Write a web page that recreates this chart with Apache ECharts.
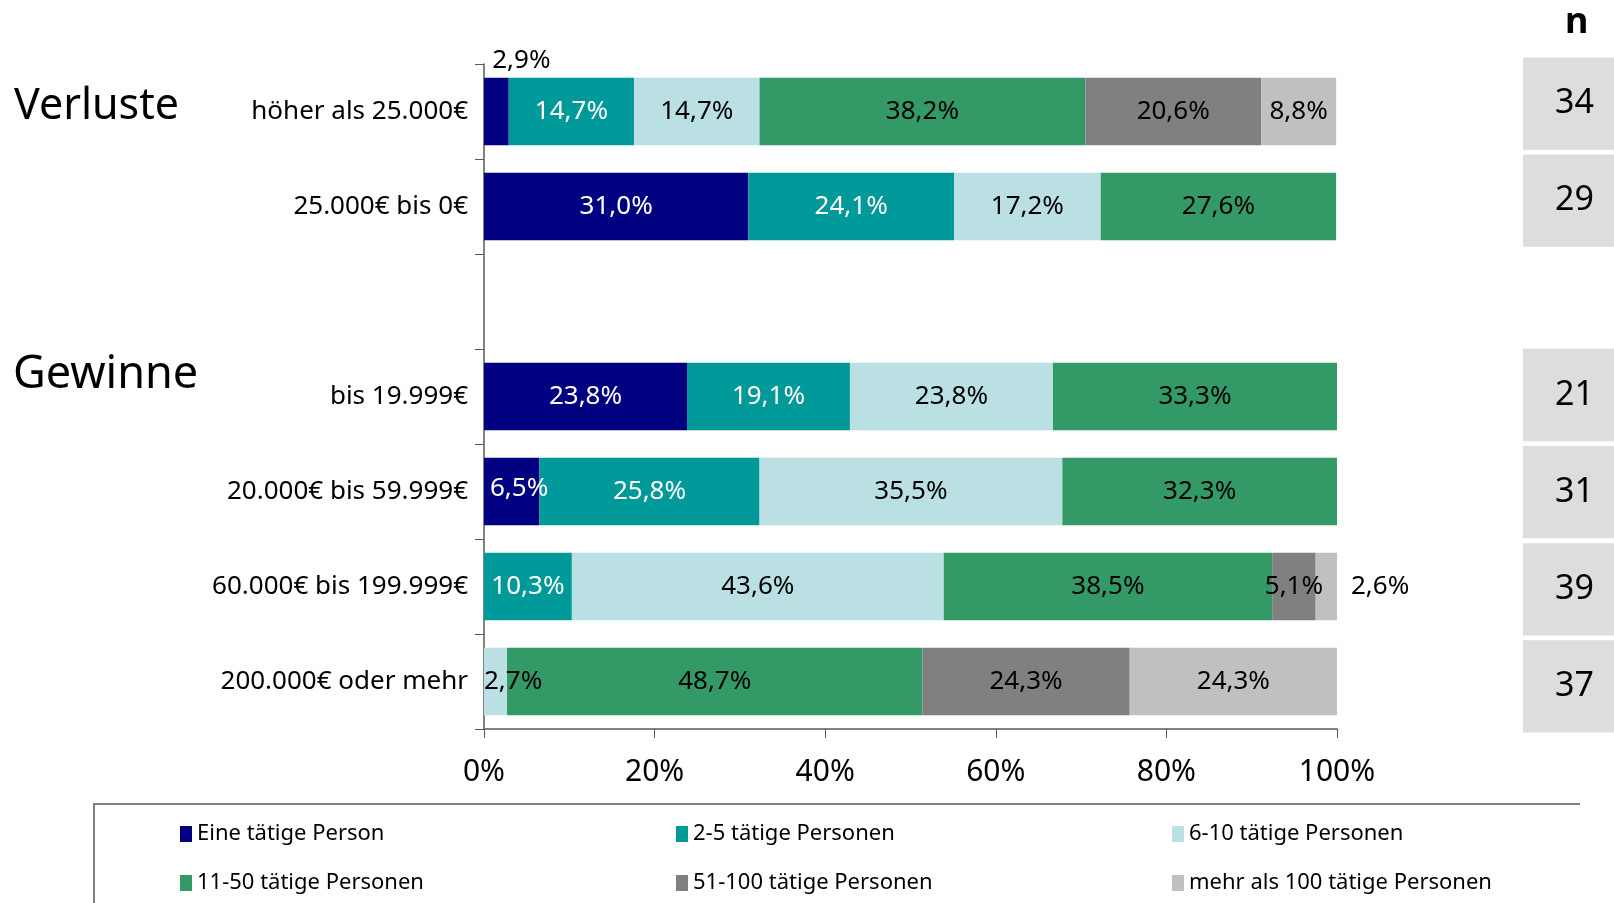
<!DOCTYPE html>
<html>
<head>
<meta charset="utf-8">
<script src="https://cdn.jsdelivr.net/npm/echarts@6/dist/echarts.min.js"></script>
<style>
html,body{margin:0;padding:0;background:#fff;}
#main{width:1614px;height:903px;}
</style>
</head>
<body>
<div id="main"></div>
<script>
// ---- data ----
var categories = ['höher als 25.000€', '25.000€ bis 0€', '', 'bis 19.999€', '20.000€ bis 59.999€', '60.000€ bis 199.999€', '200.000€ oder mehr'];
var seriesNames = ['Eine tätige Person', '2-5 tätige Personen', '6-10 tätige Personen', '11-50 tätige Personen', '51-100 tätige Personen', 'mehr als 100 tätige Personen'];
var einePerson   = [2.9, 31.0, null, 23.8, 6.5, null, null];
var p2bis5       = [14.7, 24.1, null, 19.1, 25.8, 10.3, null];
var p6bis10      = [14.7, 17.2, null, 23.8, 35.5, 43.6, 2.7];
var p11bis50     = [38.2, 27.6, null, 33.3, 32.3, 38.5, 48.7];
var p51bis100    = [20.6, null, null, null, null, 5.1, 24.3];
var mehrAls100   = [8.8, null, null, null, null, 2.6, 24.3];
var nValues      = [34, 29, null, 21, 31, 39, 37];
var xTicks       = [0, 20, 40, 60, 80, 100];
var groupTitles  = ['Verluste', 'Gewinne'];

var colors = ['#000080', '#009999', '#BBE0E3', '#339966', '#808080', '#C0C0C0'];
var labelColors = ['#ffffff', '#ffffff', '#000000', '#000000', '#000000', '#000000'];
var allValues = [einePerson, p2bis5, p6bis10, p11bis50, p51bis100, mehrAls100];

var FONT = 'Noto Sans';
function fmt(v) { return v.toFixed(1).replace('.', ',') + '%'; }

// special label placements (series index, category index)
var specialLabels = {
  '0-0': { position: 'top', distance: 4, offset: [25, 0] },
  '0-4': { position: 'insideLeft', distance: 6, offset: [0, -3] },
  '2-6': { position: 'insideLeft', distance: 0 },
  '5-5': { position: 'right', distance: 14 }
};

var series = allValues.map(function (vals, si) {
  return {
    name: seriesNames[si],
    type: 'bar',
    stack: 'total',
    barCategoryGap: '29%',
    xAxisIndex: 0,
    yAxisIndex: 0,
    itemStyle: { color: colors[si] },
    label: {
      show: true,
      position: 'inside',
      color: labelColors[si],
      fontFamily: FONT,
      fontSize: 26,
      formatter: function (p) { return fmt(p.value); }
    },
    data: vals.map(function (v, ci) {
      if (v == null) return null;
      var sp = specialLabels[si + '-' + ci];
      if (sp) {
        var lab = Object.assign({}, sp);
        if (sp.position === 'top' || sp.position === 'right') lab.color = '#000000';
        return { value: v, label: lab };
      }
      return v;
    })
  };
});

// n column as table cells
series.push({
  name: 'n',
  type: 'bar',
  xAxisIndex: 1,
  yAxisIndex: 1,
  barCategoryGap: '5%',
  silent: true,
  itemStyle: { color: '#DDDDDD' },
  label: {
    show: true,
    position: 'inside',
    offset: [6, 0],
    color: '#000000',
    fontFamily: FONT,
    fontSize: 34,
    formatter: function (p) { return String(nValues[p.dataIndex]); }
  },
  data: nValues.map(function (v) { return v == null ? null : 1; })
});

var option = {
  backgroundColor: '#ffffff',
  animation: false,
  title: [
    { text: groupTitles[0], left: 9, top: 80, textStyle: { fontFamily: FONT, fontSize: 43, fontWeight: 'normal', color: '#000' } },
    { text: groupTitles[1], left: 8, top: 348, textStyle: { fontFamily: FONT, fontSize: 45, fontWeight: 'normal', color: '#000' } },
    { text: 'n', left: 1560, top: 0, textStyle: { fontFamily: FONT, fontSize: 36, fontWeight: 'bold', color: '#000' } }
  ],
  grid: [
    { left: 484, right: 277, top: 64, bottom: 174, containLabel: false },
    { left: 1523, right: 0, top: 55, bottom: 168, containLabel: false }
  ],
  xAxis: [
    {
      type: 'value', gridIndex: 0, min: xTicks[0], max: xTicks[xTicks.length - 1], interval: 20,
      splitLine: { show: false },
      axisLine: { show: true, lineStyle: { color: '#595959', width: 1.5 } },
      axisTick: { show: true, length: 9, lineStyle: { color: '#595959' } },
      axisLabel: { fontFamily: FONT, fontSize: 30, color: '#000', margin: 28, formatter: '{value}%' }
    },
    { type: 'value', gridIndex: 1, min: 0, max: 1, show: false }
  ],
  yAxis: [
    {
      type: 'category', gridIndex: 0, data: categories, inverse: true,
      axisLine: { show: true, lineStyle: { color: '#595959', width: 1.5 } },
      axisTick: { show: true, length: 9, lineStyle: { color: '#595959' } },
      axisLabel: { fontFamily: FONT, fontSize: 26, color: '#000', margin: 16 }
    },
    { type: 'category', gridIndex: 1, data: categories, inverse: true, show: false }
  ],
  legend: [
    { data: [seriesNames[0], seriesNames[3]], left: 175, top: 818, orient: 'vertical', itemGap: 27, itemWidth: 12, itemHeight: 16, icon: 'rect', textStyle: { fontFamily: FONT, fontSize: 22, color: '#000' } },
    { data: [seriesNames[1], seriesNames[4]], left: 671, top: 818, orient: 'vertical', itemGap: 27, itemWidth: 12, itemHeight: 16, icon: 'rect', textStyle: { fontFamily: FONT, fontSize: 22, color: '#000' } },
    { data: [seriesNames[2], seriesNames[5]], left: 1167, top: 818, orient: 'vertical', itemGap: 27, itemWidth: 12, itemHeight: 16, icon: 'rect', textStyle: { fontFamily: FONT, fontSize: 22, color: '#000' } }
  ],
  graphic: [
    { type: 'polyline', shape: { points: [[94, 903], [94, 804], [1580, 804]] }, style: { stroke: '#808080', lineWidth: 2, fill: null } }
  ],
  series: series
};

var chart = echarts.init(document.getElementById('main'), null, { renderer: 'canvas' });
chart.setOption(option);
</script>
</body>
</html>
